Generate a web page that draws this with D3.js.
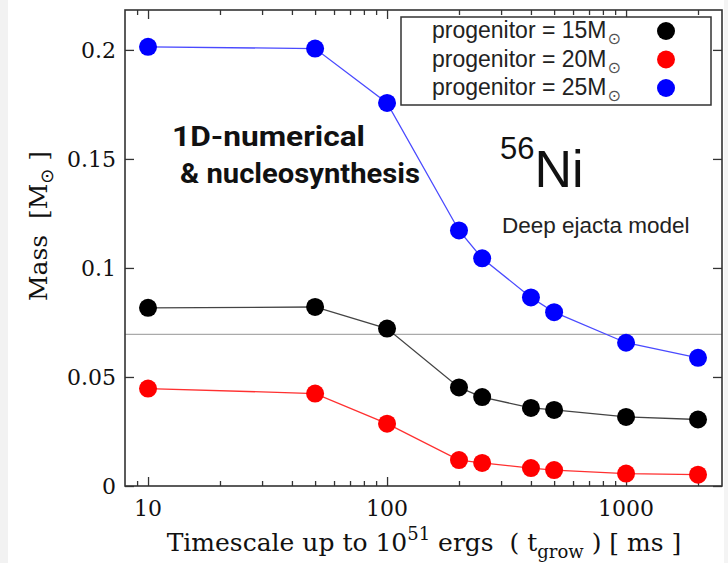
<!DOCTYPE html>
<html><head><meta charset="utf-8">
<script src="https://cdn.jsdelivr.net/npm/d3@7"></script>
<style>html,body{margin:0;padding:0;background:#fff;}svg{display:block;}</style>
</head><body>
<svg id="c" width="728" height="563"></svg>
<script>
const timescales = [10, 50, 100, 200, 250, 400, 500, 1000, 2000];
const mass15 = [0.0817, 0.0821, 0.0722, 0.0452, 0.0408, 0.0358, 0.0349, 0.0317, 0.0305];
const mass20 = [0.0447, 0.0424, 0.0286, 0.0119, 0.0106, 0.0082, 0.0073, 0.0057, 0.0052];
const mass25 = [0.2014, 0.2006, 0.1757, 0.1172, 0.1044, 0.0865, 0.0797, 0.0657, 0.0588];
const seriesNames = ["progenitor = 15M", "progenitor = 20M", "progenitor = 25M"];
const yTicks = [0, 0.05, 0.1, 0.15, 0.2];
const yTickLabels = ["0", "0.05", "0.1", "0.15", "0.2"];
const xMajor = [10, 100, 1000];
const xMajorLabels = ["10", "100", "1000"];
const xMinor = [9, 20, 30, 40, 50, 60, 70, 80, 90, 200, 300, 400, 500, 600, 700, 800, 900, 2000];
const refLine = 0.0695;

const svg = d3.select("#c");
const L = 125, R = 722, T = 10, B = 486;
const x = d3.scaleLog().domain([8.01, 2520]).range([L, R]);
const y = d3.scaleLinear().domain([0, 0.2183]).range([B, T]);

// page edges
svg.append("rect").attr("x",0).attr("y",0).attr("width",8).attr("height",563).attr("fill","#f2f2f2");
svg.append("rect").attr("x",724).attr("y",0).attr("width",4).attr("height",563).attr("fill","#f4f4f4");

const frameCol = "#333";
// axes with inward ticks
const gx = svg.append("g").attr("transform",`translate(0,${B})`);
gx.call(d3.axisBottom(x).tickValues(xMajor).tickSize(-9).tickFormat(""));
const gxm = svg.append("g").attr("transform",`translate(0,${B})`);
gxm.call(d3.axisBottom(x).tickValues(xMinor).tickSize(-5).tickFormat(""));
const gt = svg.append("g").attr("transform",`translate(0,${T})`);
gt.call(d3.axisTop(x).tickValues(xMajor).tickSize(-9).tickFormat(""));
const gtm = svg.append("g").attr("transform",`translate(0,${T})`);
gtm.call(d3.axisTop(x).tickValues(xMinor).tickSize(-5).tickFormat(""));
const gy = svg.append("g").attr("transform",`translate(${L},0)`);
gy.call(d3.axisLeft(y).tickValues(yTicks).tickSize(-9).tickFormat(""));
const gr = svg.append("g").attr("transform",`translate(${R},0)`);
gr.call(d3.axisRight(y).tickValues(yTicks).tickSize(-9).tickFormat(""));
svg.selectAll(".domain").remove();
svg.selectAll(".tick line").attr("stroke",frameCol).attr("stroke-width",1.3);

// tick labels
const serif = "'DejaVu Serif','Liberation Serif',serif";
svg.append("g").selectAll("text").data(yTicks).join("text")
  .attr("x", L-9).attr("y", d=>y(d)+8).attr("text-anchor","end")
  .attr("font-family",serif).attr("font-size",22).attr("fill","#111")
  .text((d,i)=>yTickLabels[i]);
svg.append("g").selectAll("text").data(xMajor).join("text")
  .attr("x", d=>x(d)).attr("y", B+30).attr("text-anchor","middle")
  .attr("font-family",serif).attr("font-size",22).attr("fill","#111")
  .text((d,i)=>xMajorLabels[i]);

// axis titles
const xt = svg.append("text").attr("x",424).attr("y",551).attr("text-anchor","middle")
  .attr("font-family",serif).attr("font-size",25).attr("fill","#111").attr("xml:space","preserve");
xt.append("tspan").text("Timescale up to 10");
xt.append("tspan").attr("dy",-11).attr("font-size",18).text("51");
xt.append("tspan").attr("dy",11).text(" ergs  ( t");
xt.append("tspan").attr("dy",7).attr("font-size",18).text("grow");
xt.append("tspan").attr("dy",-7).text(" ) [ ms ]");

const yt = svg.append("text").attr("transform","translate(47,226) rotate(-90)").attr("text-anchor","middle")
  .attr("font-family",serif).attr("font-size",25).attr("fill","#111").attr("xml:space","preserve");
yt.append("tspan").text("Mass  [M");
yt.append("tspan").attr("dy",6).attr("font-size",18).attr("font-family","'DejaVu Sans',sans-serif").text("⊙");
yt.append("tspan").attr("dy",-6).text(" ]");

// reference line
svg.append("line").attr("x1",L).attr("x2",R).attr("y1",y(refLine)).attr("y2",y(refLine))
  .attr("stroke","#aaa").attr("stroke-width",1.2);

// series
const series = [
  {vals: mass15, dot:"#000000", line:"#444444"},
  {vals: mass20, dot:"#ff0000", line:"#ff3030"},
  {vals: mass25, dot:"#0000ff", line:"#4a4aff"}
];
const lineGen = d3.line().x(d=>x(d[0])).y(d=>y(d[1]));
series.forEach(s=>{
  const pts = timescales.map((t,i)=>[t, s.vals[i]]);
  svg.append("path").attr("d",lineGen(pts)).attr("fill","none")
    .attr("stroke",s.line).attr("stroke-width",1.3);
  svg.append("g").selectAll("circle").data(pts).join("circle")
    .attr("cx",d=>x(d[0])).attr("cy",d=>y(d[1])).attr("r",9).attr("fill",s.dot);
});

// frame
svg.append("rect").attr("x",L).attr("y",T).attr("width",R-L).attr("height",B-T)
  .attr("fill","none").attr("stroke",frameCol).attr("stroke-width",1.6);

// legend
const sans = "'Liberation Sans',Arial,sans-serif";
svg.append("rect").attr("x",401).attr("y",17).attr("width",310).attr("height",88)
  .attr("fill","#fff").attr("stroke",frameCol).attr("stroke-width",1.5);
series.forEach((s,i)=>{
  const yy = 31 + i*28.5;
  const t = svg.append("text").attr("x",432).attr("y",yy+7).attr("font-family",sans)
    .attr("font-size",23).attr("fill","#222");
  t.append("tspan").text(seriesNames[i]);
  t.append("tspan").attr("dy",6).attr("dx",1).attr("font-size",16).attr("font-family","'DejaVu Sans',sans-serif").attr("fill","#555").text("⊙");
  svg.append("circle").attr("cx",666).attr("cy",yy).attr("r",9).attr("fill",s.dot);
});

// annotations
const bold = "Roboto,'Liberation Sans',sans-serif";
svg.append("text").attr("x",172).attr("y",146).attr("font-family",bold).attr("font-weight","bold")
  .attr("font-size",28).attr("fill","#111").attr("textLength",193).attr("lengthAdjust","spacingAndGlyphs")
  .text("1D-numerical");
svg.append("text").attr("x",180).attr("y",183).attr("font-family",bold).attr("font-weight","bold")
  .attr("font-size",28).attr("fill","#111").attr("textLength",240).attr("lengthAdjust","spacingAndGlyphs")
  .text("& nucleosynthesis");

const ni = svg.append("text").attr("x",500).attr("y",187).attr("font-family",sans).attr("fill","#111");
ni.append("tspan").attr("font-size",31).attr("dy",-28).text("56");
ni.append("tspan").attr("font-size",52).attr("dy",28).text("Ni");

svg.append("text").attr("x",502).attr("y",233).attr("font-family",sans).attr("font-size",22.5)
  .attr("fill","#222").text("Deep ejacta model");
</script>
</body></html>
